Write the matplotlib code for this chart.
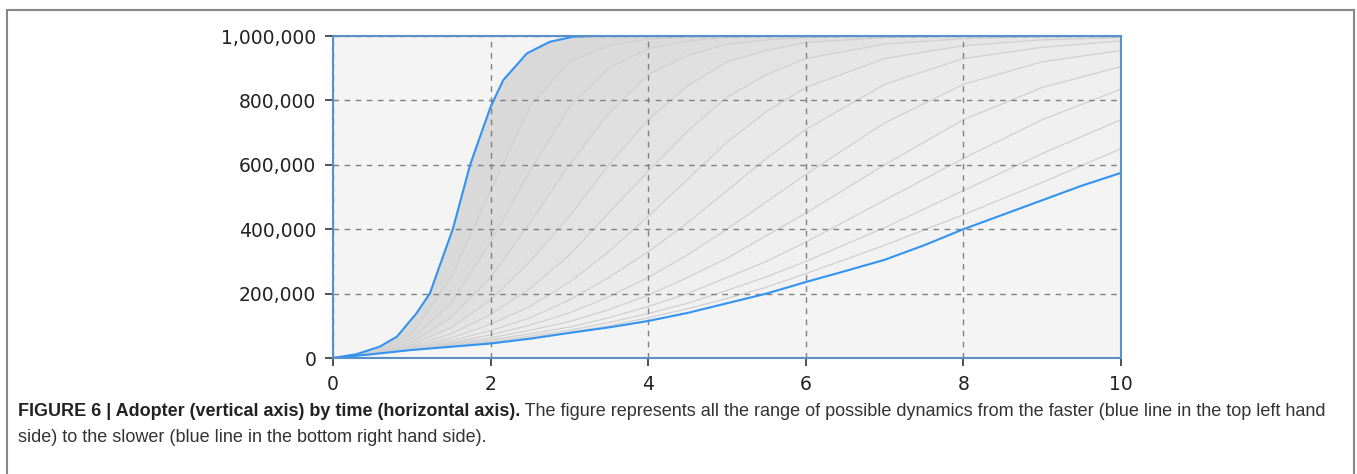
import numpy as np
import matplotlib
matplotlib.use("Agg")
import matplotlib.pyplot as plt
from matplotlib.patches import Rectangle
from matplotlib.ticker import FuncFormatter

# fastest diffusion (blue, top left)
t_fast = [0, 0.3, 0.59, 0.81, 1.06, 1.23, 1.35, 1.52, 1.74, 1.91, 2.0, 2.16, 2.46, 2.75, 3.05, 3.3, 10]
y_fast = [0, 12e3, 35e3, 66e3, 139e3, 201e3, 284e3, 400e3, 600e3, 718e3, 780e3, 863e3,
          946e3, 982e3, 998e3, 1e6, 1e6]

# slowest diffusion (blue, bottom right)
t_slow = [0, 0.5, 1, 1.5, 2, 2.5, 3, 3.5, 4, 4.5, 5, 5.5, 6, 6.5, 7, 7.5, 8, 8.5, 9, 9.5, 10]
y_slow = [0, 12e3, 25e3, 35e3, 45e3, 60e3, 78e3, 95e3, 115e3, 140e3, 170e3, 200e3, 236e3,
          270e3, 305e3, 350e3, 400e3, 445e3, 490e3, 535e3, 575e3]

# intermediate runs (grey family), values in thousands
t_gray = [0, 0.5, 1, 1.5, 2, 2.5, 3, 3.5, 4, 4.5, 5, 5.5, 6, 7, 8, 9, 10]
g1 = [0, 18, 75, 250, 520, 780, 920, 970, 990, 997, 1000, 1000, 1000, 1000, 1000, 1000, 1000]
g2 = [0, 16, 60, 170, 360, 580, 780, 900, 960, 985, 995, 1000, 1000, 1000, 1000, 1000, 1000]
g3 = [0, 15, 50, 125, 250, 420, 600, 760, 880, 940, 975, 988, 995, 1000, 1000, 1000, 1000]
g4 = [0, 14, 42, 95, 180, 300, 440, 600, 740, 845, 920, 955, 980, 995, 1000, 1000, 1000]
g5 = [0, 13, 37, 75, 135, 215, 320, 450, 580, 705, 810, 880, 930, 975, 992, 998, 1000]
g6 = [0, 13, 33, 62, 105, 160, 235, 330, 440, 555, 670, 765, 840, 930, 970, 988, 995]
g7 = [0, 12, 30, 54, 85, 125, 180, 250, 330, 420, 520, 620, 710, 850, 930, 965, 985]
g8 = [0, 12, 28, 48, 72, 102, 140, 190, 250, 320, 400, 485, 570, 730, 850, 920, 955]
g9 = [0, 12, 27, 44, 63, 86, 113, 150, 195, 250, 310, 380, 450, 600, 740, 840, 905]
g10 = [0, 12, 26, 41, 57, 75, 96, 125, 160, 200, 250, 300, 360, 490, 620, 740, 835]
g11 = [0, 12, 25, 38, 52, 68, 86, 110, 138, 170, 210, 252, 300, 405, 520, 635, 740]
g12 = [0, 12, 25, 37, 49, 63, 80, 100, 125, 153, 185, 220, 262, 350, 445, 545, 650]
gray_runs = [g1, g2, g3, g4, g5, g6, g7, g8, g9, g10, g11, g12]

x_ticks = [0, 2, 4, 6, 8, 10]
y_ticks = [0, 200000, 400000, 600000, 800000, 1000000]

caption_bold = "FIGURE 6 | Adopter (vertical axis) by time (horizontal axis)."
caption_rest = (" The figure represents all the range of possible dynamics from the faster "
                "(blue line in the top left hand")
caption_line2 = "side) to the slower (blue line in the bottom right hand side)."

fig = plt.figure(figsize=(13.57, 4.74), dpi=100)
ax = fig.add_axes([0.2454, 0.2447, 0.5807, 0.6793])
ax.set_facecolor("#f4f4f4")

# shaded bands between consecutive runs
curves = [(t_fast, y_fast)] + [(t_gray, np.array(g) * 1000) for g in gray_runs] + [(t_slow, y_slow)]
band_cols = ["#d9d9d9", "#dbdbdb", "#dddddd", "#e0e0e0", "#e3e3e3", "#e6e6e6",
             "#e9e9e9", "#ebebeb", "#ededed", "#efefef", "#f0f0f0", "#f1f1f1", "#f2f2f2"]
for (ta, ya), (tb, yb), c in zip(curves[:-1], curves[1:], band_cols):
    ax.fill(np.r_[ta, tb[::-1]], np.r_[ya, np.asarray(yb)[::-1]], color=c, lw=0, zorder=1)

for g in gray_runs:
    ax.plot(t_gray, np.array(g) * 1000, color="#d0d0d0", lw=0.9, zorder=2)

ax.grid(True, color="#808080", linestyle=(0, (4, 4)), lw=1.0, zorder=3)
ax.set_axisbelow(False)

ax.plot(t_fast, y_fast, color="#3393f0", lw=1.5, zorder=5, solid_joinstyle="round")
ax.plot(t_slow, y_slow, color="#3393f0", lw=1.5, zorder=5, solid_joinstyle="round")

ax.set_xlim(0, 10)
ax.set_ylim(0, 1000000)
ax.set_xticks(x_ticks)
ax.set_yticks(y_ticks)
ax.yaxis.set_major_formatter(FuncFormatter(lambda v, p: f"{int(v):,}"))
for s in ax.spines.values():
    s.set_color("#5a8fc8")
    s.set_linewidth(1.5)
    s.set_zorder(6)
ax.tick_params(length=6, width=1.2, color="#333333", labelsize=13.5, labelcolor="#222222", pad=6)

# figure frame
fig.patches.append(Rectangle((0.0055, -0.02), 0.9923, 0.999, transform=fig.transFigure,
                             fill=False, edgecolor="#888888", lw=1.5))

cap_font = ["Liberation Sans", "DejaVu Sans"]
tb = fig.text(18 / 1357, 1 - 412 / 474, caption_bold, fontsize=13, fontweight="bold",
              family=cap_font, color="#222222", va="center")
fig.canvas.draw()
bb = tb.get_window_extent()
fig.text(bb.x1 / fig.bbox.width, 1 - 412 / 474, caption_rest, fontsize=13,
         family=cap_font, color="#333333", va="center")
fig.text(18 / 1357, 1 - 437 / 474, caption_line2, fontsize=13,
         family=cap_font, color="#333333", va="center")

fig.savefig("out.png", dpi=100)
